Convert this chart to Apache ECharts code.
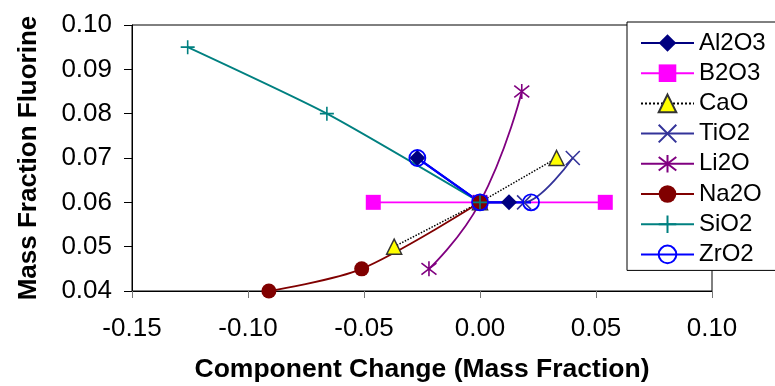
<!DOCTYPE html>
<html>
<head>
<meta charset="utf-8">
<script src="https://cdn.jsdelivr.net/npm/echarts@6/dist/echarts.min.js"></script>
<style>html,body{margin:0;padding:0;background:#fff;}#c{width:775px;height:386px;}</style>
</head>
<body>
<div id="c"></div>
<script>
const xTicks = [-0.15, 0.10, 0.05];
const yTicks = [0.04, 0.10, 0.01];
const seriesNames = ['Al2O3', 'B2O3', 'CaO', 'TiO2', 'Li2O', 'Na2O', 'SiO2', 'ZrO2'];
const al2o3 = [[-0.027, 0.070], [0.000, 0.060], [0.0125, 0.060]];
const b2o3 = [[-0.046, 0.060], [0.000, 0.060], [0.054, 0.060]];
const cao = [[-0.037, 0.050], [0.000, 0.060], [0.033, 0.070]];
const tio2 = [[0.000, 0.060], [0.019, 0.060], [0.040, 0.070]];
const li2o = [[-0.022, 0.045], [0.000, 0.060], [0.018, 0.085]];
const na2o = [[-0.091, 0.040], [-0.051, 0.045], [0.000, 0.060]];
const sio2 = [[-0.126, 0.095], [-0.066, 0.080], [0.000, 0.060]];
const zro2 = [[-0.027, 0.070], [0.000, 0.060], [0.022, 0.060]];

const X_PATH = 'path://M0,0L10,10M10,0L0,10';
const STAR_PATH = 'path://M0,0L10,10M10,0L0,10M5,-1.5L5,11.5';
const PLUS_PATH = 'path://M5,0L5,10M0,5L10,5';

function mk(name, data, color, symbol, size, opts) {
  opts = opts || {};
  return {
    name: name, type: 'line', data: data,
    symbol: symbol, symbolSize: size,
    smooth: opts.smooth || false,
    lineStyle: { color: opts.lineColor || color, width: opts.width || 1.8, type: opts.lineType || 'solid' },
    itemStyle: opts.itemStyle || { color: color },
    emphasis: { disabled: true },
    animation: false
  };
}

const chart = echarts.init(document.getElementById('c'), null, { renderer: 'canvas' });
chart.setOption({
  animation: false,
  grid: { left: 132, right: 63, top: 25, bottom: 95, show: true, borderColor: '#000', borderWidth: 1,
    containLabel: false, outerBoundsMode: 'none' },
  xAxis: {
    type: 'value', min: xTicks[0], max: xTicks[1], interval: xTicks[2],
    name: 'Component Change (Mass Fraction)', nameLocation: 'middle', nameGap: 65,
    nameTextStyle: { fontFamily: 'Liberation Sans', fontWeight: 'bold', fontSize: 26.5, color: '#000' },
    axisLine: { onZero: false, lineStyle: { color: '#000', width: 1 } },
    axisTick: { show: true, length: 7, inside: false, lineStyle: { color: '#777' } },
    splitLine: { show: false },
    axisLabel: { fontFamily: 'Liberation Sans', fontSize: 26, color: '#000', margin: 25,
      formatter: v => v.toFixed(2) }
  },
  yAxis: {
    type: 'value', min: yTicks[0], max: yTicks[1], interval: yTicks[2],
    name: 'Mass Fraction Fluorine', nameLocation: 'middle', nameGap: 90,
    nameTextStyle: { fontFamily: 'Liberation Sans', fontWeight: 'bold', fontSize: 26, color: '#000' },
    axisLine: { onZero: false, lineStyle: { color: '#000', width: 1 } },
    axisTick: { show: true, length: 8, lineStyle: { color: '#000' } },
    splitLine: { show: false },
    axisLabel: { fontFamily: 'Liberation Sans', fontSize: 26, color: '#000', margin: 20,
      formatter: v => v.toFixed(2) }
  },
  legend: {
    data: seriesNames,
    orient: 'vertical', left: 627, top: 22,
    padding: [9, 40, 4, 13],
    itemWidth: 53, itemHeight: 22, itemGap: 6.2,
    backgroundColor: '#fff', borderColor: '#000', borderWidth: 1,
    textStyle: { fontFamily: 'Liberation Sans', fontSize: 24, color: '#000', lineHeight: 22 },
    selectedMode: false
  },
  series: [
    mk('Al2O3', al2o3, '#000080', 'diamond', 16, { width: 2 }),
    mk('B2O3', b2o3, '#FF00FF', 'rect', 15, { width: 1.8 }),
    mk('CaO', cao, '#FFFF00', 'triangle', 15, { lineColor: '#000', lineType: 'dotted', width: 1.5,
      itemStyle: { color: '#FFFF00', borderColor: '#333', borderWidth: 1.5 } }),
    mk('TiO2', tio2, '#333399', X_PATH, 14, { smooth: 0.3,
      itemStyle: { color: 'transparent', borderColor: '#333399', borderWidth: 1.6 } }),
    mk('Li2O', li2o, '#800080', STAR_PATH, 15, { smooth: 0.5,
      itemStyle: { color: 'transparent', borderColor: '#800080', borderWidth: 1.6 } }),
    mk('Na2O', na2o, '#800000', 'circle', 15, { smooth: 0.3 }),
    mk('SiO2', sio2, '#008080', PLUS_PATH, 14, { smooth: 0.2,
      itemStyle: { color: 'transparent', borderColor: '#008080', borderWidth: 1.6 } }),
    mk('ZrO2', zro2, '#0000FF', 'circle', 16, { width: 2.2,
      itemStyle: { color: 'transparent', borderColor: '#0000FF', borderWidth: 1.8 } })
  ]
});
</script>
</body>
</html>
